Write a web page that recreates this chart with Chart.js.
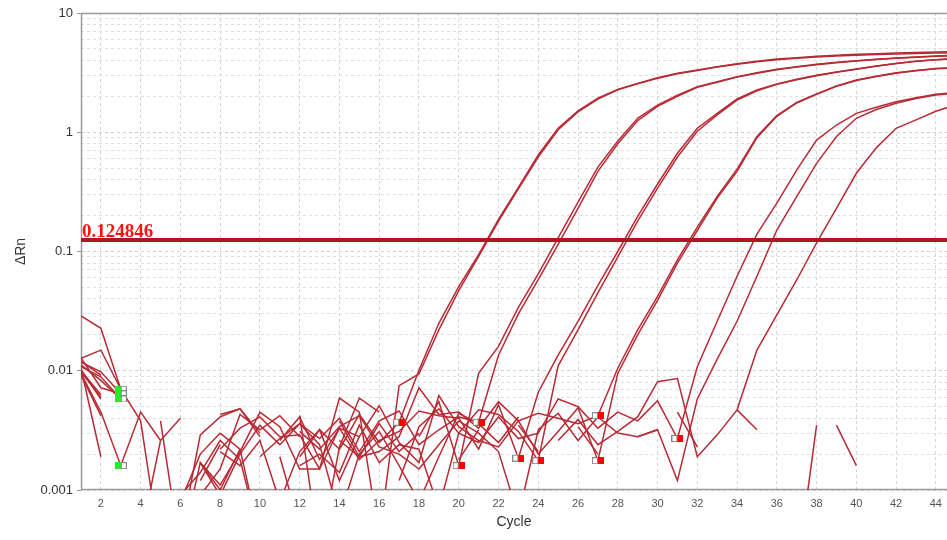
<!DOCTYPE html>
<html>
<head>
<meta charset="utf-8">
<script src="https://cdn.jsdelivr.net/npm/chart.js@4"></script>
<style>
  html, body { margin: 0; padding: 0; background: #fff; }
</style>
</head>
<body>
<canvas id="ampChart" width="947" height="540"></canvas>
<script>
// cycles on the x axis
const cycles = [1,2,3,4,5,6,7,8,9,10,11,12,13,14,15,16,17,18,19,20,21,22,23,24,25,26,27,28,29,30,31,32,33,34,35,36,37,38,39,40,41,42,43,44,45];
const xTickValues = [2,4,6,8,10,12,14,16,18,20,22,24,26,28,30,32,34,36,38,40,42,44];
const yDecades = [0.001, 0.01, 0.1, 1, 10];
const yDecadeLabels = ['0.001', '0.01', '0.1', '1', '10'];
const yMinorTicks = [0.002,0.003,0.004,0.005,0.006,0.007,0.008,0.009,
                     0.02,0.03,0.04,0.05,0.06,0.07,0.08,0.09,
                     0.2,0.3,0.4,0.5,0.6,0.7,0.8,0.9,
                     2,3,4,5,6,7,8,9];

const thresholdValue = 0.124846;
const thresholdText = '0.124846';

// ΔRn per well (null = negative value, not drawn)
const wellA1 = [0.0288,0.0227,0.0070,null,null, 0.0004,0.0029,0.0041,0.0048,0.0030, null,0.0019,0.0032,0.0022,0.0043, 0.0025,0.0037,0.0101,0.025,0.0507, 0.094,0.186,0.345,0.644,1.08, 1.51,1.93,2.29,2.57,2.86, 3.12,3.32,3.55,3.76,3.94, 4.11,4.22,4.33,4.42,4.50, 4.56,4.62,4.67,4.72,4.76];
const wellA2 = [0.0127,0.0149,0.0070,0.0038,0.0003, null,0.0017,0.0011,0.0021,0.0045, 0.0034,0.0015,0.0015,0.0059,0.0045, 0.0004,0.0075,0.0094,0.022,0.047, 0.091,0.18,0.335,0.62,1.05, 1.48,1.9,2.27,2.55,2.84, 3.1,3.3,3.52,3.72,3.9, 4.06,4.18,4.28,4.36,4.43, 4.49,4.54,4.58,4.61,4.63];
const wellB1 = [0.0118,0.0098,0.0064,null,0.0038, 0.0003,null,0.0043,0.0048,0.0028, null,0.0042,0.0003,0.0023,0.0059, 0.0045,null,0.0028,0.0055,0.0016, 0.0095,0.016,0.034,0.065,0.13, 0.26,0.51,0.845,1.31,1.69, 2.05,2.41,2.65,2.92,3.16, 3.37,3.55,3.72,3.86,3.98, 4.09,4.2,4.27,4.36,4.42];
const wellB2 = [0.0105,0.0019,null,null,null, null,0.0017,0.0009,0.0020,0.0035, 0.0024,0.0036,0.0027,0.0040,0.0021, 0.0038,0.0046,0.0024,0.0032,0.0041, 0.0037,0.0135,0.03,0.058,0.115, 0.23,0.47,0.8,1.25,1.65, 2.0,2.38,2.62,2.9,3.13, 3.34,3.52,3.69,3.83,3.96, 4.07,4.17,4.25,4.33,4.39];
const wellC1 = [0.0095,0.0045,0.0016,0.0045,0.0026, null,null,0.0022,0.0033,0.0041, 0.0028,0.0029,0.0015,0.0033,0.0018, 0.0026,0.0031,0.0046,0.0042,0.0040, 0.0022,0.0052,0.00185,0.0066,0.0135, 0.026,0.052,0.10,0.197,0.368, 0.666,1.08,1.44,1.9,2.26, 2.54,2.78,3.0,3.2,3.39, 3.59,3.78,3.94,4.06,4.15];
const wellC2 = [0.0112,0.0083,0.0058,null,null, 0.0009,0.0014,0.0026,0.0018,0.0004, null,0.0016,0.0020,0.0014,0.0035, 0.0017,0.0024,0.0022,0.0007,0.0030, 0.0047,0.0043,0.0031,0.00176,0.011, 0.022,0.045,0.09,0.18,0.34, 0.62,1.02,1.4,1.86,2.23, 2.52,2.76,2.98,3.18,3.38, 3.58,3.77,3.93,4.05,4.14];
const wellD1 = [0.0128,0.0072,0.0064,null,null, null,0.0009,0.0015,0.0043,0.0032, 0.0042,0.0028,null,0.0038,0.0019, 0.0021,0.0028,0.0072,0.0043,0.0045, 0.0033,0.0055,0.0038,0.0044,0.0040, 0.0036,0.0042,0.0105,0.022,0.042, 0.085,0.16,0.29,0.49,0.92, 1.38,1.78,2.1,2.45,2.74, 2.95,3.15,3.3,3.42,3.5];
const wellD2 = [0.0102,0.0058,null,0.0004,0.0026, 0.0040,null,0.0021,0.0016,0.0026, 0.0008,0.0021,0.0032,0.0012,0.0028, 0.0051,0.0025,0.0017,0.0062,0.0034, 0.0026,0.0023,0.0038,0.0020,0.0031, 0.0049,0.00176,0.0095,0.02,0.039, 0.08,0.15,0.28,0.47,0.9, 1.36,1.76,2.08,2.43,2.72, 2.93,3.13,3.28,3.4,3.48];
const wellE1 = [0.0092,0.0042,null,null,null, 0.0003,0.0017,0.0010,0.0022,null, 0.0026,0.0041,0.0018,0.0033,0.0028, null,0.0012,0.0034,0.0048,0.0030, 0.0025,0.0041,0.0027,0.0030,0.0058, 0.0050,0.0033,0.0045,0.0038,0.0056, 0.0027,0.0108,0.026,0.062,0.14, 0.254,0.482,0.86,1.15,1.44, 1.62,1.8,1.95,2.08,2.15];
const wellE2 = [0.0108,0.0089,0.0058,null,0.0003, null,null,0.0030,0.0022,0.0004, null,0.0031,0.0022,0.0034,0.0042, 0.0023,0.0020,0.0015,0.0024,0.0038, 0.0030,0.0021,0.0006,0.0032,0.0044, 0.0026,0.0041,0.0030,0.0028,0.0032, 0.0012,0.0058,0.0125,0.026,0.062, 0.151,0.288,0.548,0.92,1.31, 1.55,1.75,1.92,2.05,2.12];
const wellF1 = [0.0100,0.0063,null,null,null, null,0.0012,0.0024,null,0.0019, 0.0027,0.0036,0.0024,0.0006,0.0020, 0.0031,0.0016,0.0008,0.0019,0.0044, 0.0036,0.0025,0.0041,null,0.0026, 0.0039,0.0024,0.0031,0.0041,0.0081, 0.0086,0.0019,0.0029,0.0047,0.0149, 0.0294,0.0577,0.118,0.23,0.453, 0.74,1.08,1.27,1.5,1.7];
const wellNtc1 = [0.0120,0.0092,null,null,0.0004, 0.0008,0.0020,0.0030,null,null, 0.0019,0.0005,null,0.0026,0.0019, 0.0036,0.0021,0.0030,null,0.0018, 0.0032,null,0.0035,0.0021,null, 0.0034,0.0020,null,null,null, 0.0045,0.0023,null,0.0047,0.0032, null,0.0002,0.0035,null,null, null,null,null,null,null];
const wellNtc2 = [0.0098,0.0060,null,null,null, null,null,null,null,null, null,null,null,null,null, null,null,null,null,null, null,null,null,null,null, null,null,null,0.0028,0.0032, null,null,null,null,null, null,null,null,0.0035,0.0016, null,null,null,null,null];

const wells = [wellA1, wellA2, wellB1, wellB2, wellC1, wellC2, wellD1, wellD2, wellE1, wellE2, wellF1, wellNtc1, wellNtc2];

// baseline start / end markers
const startMarkerCycles = [3, 3, 3, 3];
const startMarkerValues = [0.0070, 0.0064, 0.0058, 0.0016];
const endMarkerCycles = [17, 20, 21, 23, 24, 27, 27, 31];
const endMarkerValues = [0.0037, 0.0016, 0.0037, 0.00185, 0.00176, 0.0042, 0.00176, 0.0027];

const curveColor = 'rgb(184, 42, 52)';

function makeMarker(fill, fillLeft) {
    const c = document.createElement('canvas');
    c.width = 12; c.height = 7;
    const g = c.getContext('2d');
    const wx = fillLeft ? 6 : 0;
    g.fillStyle = '#fff';
    g.fillRect(wx, 0, 6, 7);
    g.strokeStyle = '#888';
    g.lineWidth = 1;
    g.strokeRect(wx + 0.5, 0.5, 5, 6);
    g.fillStyle = fill;
    g.fillRect(fillLeft ? 0 : 6, 0, 6, 7);
    return c;
}

const datasets = wells.map(vals => ({
    data: cycles.map((c, i) => ({ x: c, y: vals[i] })),
    borderColor: curveColor,
    borderWidth: 1.5,
    pointRadius: 0,
    tension: 0,
    order: 2
}));

datasets.push({
    data: [{ x: 1, y: thresholdValue }, { x: 45, y: thresholdValue }],
    borderColor: 'rgb(176, 22, 34)',
    borderWidth: 4,
    pointRadius: 0,
    order: 1
});
datasets.push({
    data: startMarkerCycles.map((c, i) => ({ x: c, y: startMarkerValues[i] })),
    showLine: false,
    pointStyle: makeMarker('#22ee22', true),
    order: 0
});
datasets.push({
    data: endMarkerCycles.map((c, i) => ({ x: c, y: endMarkerValues[i] })),
    showLine: false,
    pointStyle: makeMarker('#ff0000', false),
    order: 0
});

// frame + threshold label
const frame = {
    id: 'frame',
    beforeDatasetsDraw(chart) {
        const { ctx, chartArea: a } = chart;
        ctx.save();
        ctx.strokeStyle = '#9a9a9a';
        ctx.lineWidth = 1.5;
        ctx.beginPath();
        ctx.moveTo(a.right, a.top + 0.5);
        ctx.lineTo(a.left + 0.5, a.top + 0.5);
        ctx.lineTo(a.left + 0.5, a.bottom - 0.5);
        ctx.lineTo(a.right, a.bottom - 0.5);
        ctx.stroke();
        ctx.restore();
    },
    afterDatasetsDraw(chart) {
        const { ctx, chartArea: a } = chart;
        const y = chart.scales.y.getPixelForValue(thresholdValue);
        ctx.save();
        ctx.font = 'bold 19px "Liberation Serif", "Times New Roman", serif';
        ctx.fillStyle = '#ff1010';
        ctx.textBaseline = 'alphabetic';
        ctx.fillText(thresholdText, a.left + 1, y - 3);
        ctx.restore();
    }
};

new Chart(document.getElementById('ampChart'), {
    type: 'line',
    data: { datasets: datasets },
    options: {
        responsive: false,
        animation: false,
        devicePixelRatio: 1,
        layout: { autoPadding: false, padding: { top: 13, right: 0, left: 0, bottom: 0 } },
        plugins: { legend: { display: false }, tooltip: { enabled: false } },
        scales: {
            x: {
                type: 'linear',
                min: 1,
                max: 44.56,
                afterFit: s => { s.height = 50; s.paddingLeft = 0; s.paddingRight = 0; },
                afterBuildTicks: s => { s.ticks = xTickValues.map(v => ({ value: v })); },
                grid: { color: '#d6d6d6', drawTicks: false },
                border: { display: false, dash: [3, 3] },
                ticks: {
                    padding: 7,
                    color: '#555',
                    font: { family: 'Liberation Sans, Arial, sans-serif', size: 11 },
                    callback: v => String(v),
                    autoSkip: false,
                    maxRotation: 0
                },
                title: {
                    display: true,
                    text: 'Cycle',
                    color: '#333',
                    font: { family: 'Liberation Sans, Arial, sans-serif', size: 14 },
                    padding: { top: 0, bottom: 9 }
                }
            },
            y: {
                type: 'logarithmic',
                min: 0.001,
                max: 10,
                afterFit: s => { s.width = 81; },
                afterBuildTicks: s => {
                    s.ticks = yDecades.concat(yMinorTicks).sort((a, b) => a - b).map(v => ({ value: v }));
                },
                grid: {
                    color: ctx => yDecades.includes(ctx.tick && ctx.tick.value) ? '#d0d0d0' : '#dedede',
                    tickColor: ctx => yDecades.includes(ctx.tick && ctx.tick.value) ? '#9a9a9a' : 'rgba(0,0,0,0)',
                    tickLength: 4
                },
                border: { display: false, dash: [3, 3] },
                ticks: {
                    padding: 4,
                    color: '#333',
                    autoSkip: false,
                    font: { family: 'Liberation Sans, Arial, sans-serif', size: 13 },
                    callback: v => {
                        const i = yDecades.indexOf(v);
                        return i >= 0 ? yDecadeLabels[i] : '';
                    }
                },
                title: {
                    display: true,
                    text: 'ΔRn',
                    color: '#333',
                    font: { family: 'Liberation Sans, Arial, sans-serif', size: 14 },
                    padding: { top: 13, bottom: 0 }
                }
            }
        }
    },
    plugins: [frame]
});
</script>
</body>
</html>
